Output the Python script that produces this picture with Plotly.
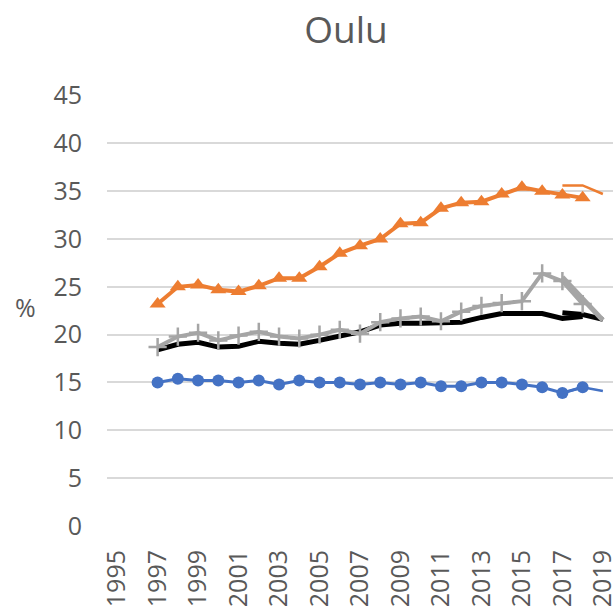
import plotly.graph_objects as go

years_main = list(range(1997, 2019))
years_new = [2017, 2018, 2019]

blue_vals = [15.0, 15.4, 15.2, 15.2, 15.0, 15.2, 14.8, 15.2, 15.0, 15.0, 14.8,
             15.0, 14.8, 15.0, 14.6, 14.6, 15.0, 15.0, 14.8, 14.5, 13.9, 14.5]
orange_vals = [23.2, 25.0, 25.2, 24.7, 24.5, 25.1, 25.9, 25.9, 27.1, 28.5, 29.3,
               30.0, 31.6, 31.7, 33.2, 33.8, 33.9, 34.7, 35.4, 35.0, 34.6, 34.3]
gray_vals = [18.7, 19.8, 20.2, 19.4, 19.9, 20.3, 19.8, 19.6, 20.0, 20.5, 20.1,
             21.3, 21.7, 21.9, 21.4, 22.4, 23.0, 23.3, 23.5, 26.4, 25.6, 23.2]
black_vals = [18.4, 19.0, 19.2, 18.7, 18.8, 19.3, 19.1, 19.0, 19.4, 19.9, 20.3,
              21.0, 21.2, 21.2, 21.3, 21.3, 21.8, 22.2, 22.2, 22.2, 21.7, 21.9]

blue_new = [13.9, 14.5, 14.1]
orange_new = [35.6, 35.6, 34.7]
gray_new = [26.0, 23.8, 21.5]
black_new = [22.3, 22.1, 21.6]

x_ticks = list(range(1995, 2020, 2))
y_ticks = list(range(0, 50, 5))

BLUE = "#4472C4"
ORANGE = "#ED7D31"
GRAY = "#A5A5A5"
BLACK = "#000000"
TXT = "#595959"
FONT = "Open Sans"

W, H = 613, 606
ML, MR, MT, MB = 107, 0, 95, 80

fig = go.Figure()

fig.add_trace(go.Scatter(x=years_main, y=black_vals, mode="lines",
                         line=dict(color=BLACK, width=5)))
fig.add_trace(go.Scatter(x=years_new, y=black_new, mode="lines",
                         line=dict(color=BLACK, width=5)))
fig.add_trace(go.Scatter(x=years_main, y=blue_vals, mode="lines+markers",
                         line=dict(color=BLUE, width=3),
                         marker=dict(symbol="circle", size=12, color=BLUE)))
fig.add_trace(go.Scatter(x=years_new, y=blue_new, mode="lines",
                         line=dict(color=BLUE, width=2.5)))
fig.add_trace(go.Scatter(x=years_main, y=orange_vals, mode="lines+markers",
                         line=dict(color=ORANGE, width=4),
                         marker=dict(symbol="triangle-up", size=14, color=ORANGE)))
fig.add_trace(go.Scatter(x=years_new, y=orange_new, mode="lines",
                         line=dict(color=ORANGE, width=2.5)))
fig.add_trace(go.Scatter(x=years_main, y=gray_vals, mode="lines+markers",
                         line=dict(color=GRAY, width=4),
                         marker=dict(symbol="cross-thin", size=13,
                                     line=dict(color=GRAY, width=2.5), color=GRAY)))
fig.add_trace(go.Scatter(x=years_new, y=gray_new, mode="lines",
                         line=dict(color=GRAY, width=5)))

px_x = (25 - ML) / (W - ML - MR)
px_y = (H - 307 - MB) / (H - MT - MB)

fig.update_layout(
    width=W, height=H,
    margin=dict(l=ML, r=MR, t=MT, b=MB, autoexpand=False),
    paper_bgcolor="white", plot_bgcolor="white",
    showlegend=False,
    font=dict(family=FONT, color=TXT, size=25),
    title=dict(text="Oulu", x=346 / W, xref="container", xanchor="center",
               y=1 - 30 / H, yref="container", yanchor="middle",
               font=dict(family=FONT, size=37, color=TXT)),
    xaxis=dict(range=[1994.5, 2019.5], tickmode="array", tickvals=x_ticks,
               ticktext=[str(v) for v in x_ticks], tickangle=-90,
               showgrid=False, zeroline=False, showline=False,
               automargin=False, ticklabelstandoff=18,
               ticklabeloverflow="allow",
               tickfont=dict(family=FONT, size=25, color=TXT)),
    yaxis=dict(range=[0, 45.05], tickmode="array", tickvals=y_ticks,
               showgrid=True, gridcolor="#D9D9D9", gridwidth=1.5,
               zeroline=False, showline=False, automargin=False,
               ticklabelstandoff=24,
               tickfont=dict(family=FONT, size=25, color=TXT)),
    annotations=[dict(text="%", x=px_x, y=px_y, xref="paper", yref="paper",
                      xanchor="center", yanchor="middle", showarrow=False,
                      font=dict(family=FONT, size=25, color=TXT))],
)

fig.write_html("out.html",
               config={"displayModeBar": False},
               post_script="document.body.style.margin='0';"
                           "document.body.style.overflow='hidden';")
